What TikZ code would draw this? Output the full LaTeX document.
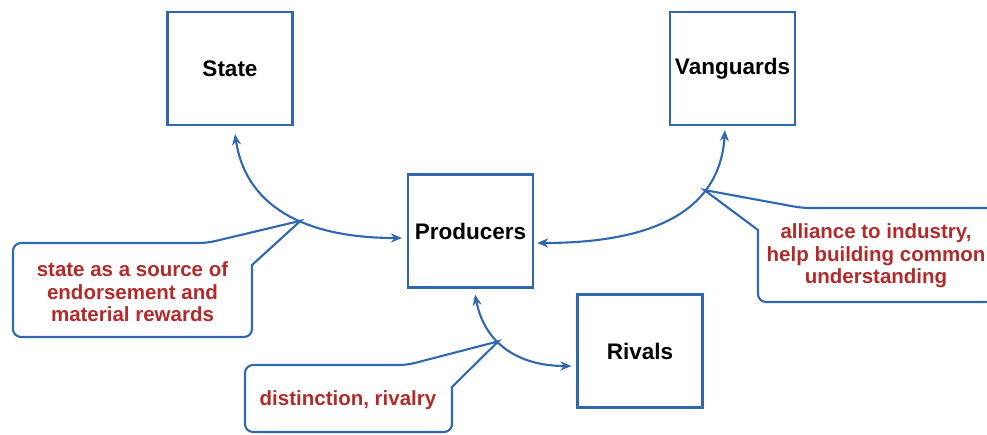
\documentclass[tikz,border=0pt]{standalone}
\usepackage{fontspec}
\setmainfont{Liberation Sans}
\usetikzlibrary{arrows.meta}
\definecolor{lineblue}{RGB}{47,104,176}
\definecolor{notered}{RGB}{178,42,42}
\tikzset{
  actor/.style={draw=lineblue, line width=2.2pt, fill=white,
    minimum width=125pt, minimum height=113pt, inner sep=0pt,
    font=\fontsize{22.5}{26}\selectfont\bfseries, text=black},
  conn/.style={draw=lineblue, line width=2.1pt,
    {Stealth[length=11pt,width=9pt]}-{Stealth[length=11pt,width=9pt]}},
  callout/.style={draw=lineblue, line width=2.1pt, fill=white, line join=miter},
  notetext/.style={text=notered, align=center,
    font=\fontsize{20.5}{22.5}\selectfont\bfseries}
}
\begin{document}
\begin{tikzpicture}[x=1pt,y=-1pt]
\useasboundingbox[fill=white] (0,0) rectangle (987,434);

% the four actors
\node[actor] (state) at (230,68.5) {State};
\node[actor] (vang)  at (732.5,68.5) {Vanguards};
\node[actor] (prod)  at (470.5,231) {Producers};
\node[actor] (riv)   at (640,351) {Rivals};

% curved two-way links, with a point on each curve for the callout tails
\draw[conn] ([xshift=5pt,yshift=-8pt]state.south)
  .. controls +(10,67) and +(-105,0) ..
  coordinate[pos=0.6] (capS) ([xshift=-5pt,yshift=-7pt]prod.west);
\draw[conn] ([xshift=-7.5pt,yshift=-4pt]vang.south)
  .. controls +(-5,77) and +(123,0) ..
  coordinate[pos=0.31] (capV) ([xshift=3pt,yshift=-12pt]prod.east);
\draw[conn] ([xshift=4.5pt,yshift=-6pt]prod.south)
  .. controls +(10,50) and +(-52,0) ..
  coordinate[pos=0.4] (capR) ([xshift=-5pt,yshift=-15pt]riv.west);

% callouts
\draw[callout] (13,290) [rounded corners=8] -- (13,243) -- (207,243)
  [sharp corners] -- (capS) -- (252,265)
  [rounded corners=8] -- (252,337) -- (13,337) -- cycle;
\node[notetext] (noteS) at (132.5,292)
  {state as a source of\\endorsement and\\material rewards};

\draw[callout] (994,255) [rounded corners=8] -- (994,208) -- (802,208)
  [sharp corners] -- (capV) -- (758,230)
  [rounded corners=8] -- (758,302) -- (994,302) -- cycle;
\node[notetext] (noteV) at (876,256)
  {alliance to industry,\\help building common\\understanding};

\draw[callout] (245,400) [rounded corners=8] -- (245,365) -- (407,365)
  [sharp corners] -- (capR) -- (452,387)
  [rounded corners=8] -- (452,432) -- (245,432) -- cycle;
\node[notetext] (noteR) at (348,400) {distinction, rivalry};
\end{tikzpicture}
\end{document}
